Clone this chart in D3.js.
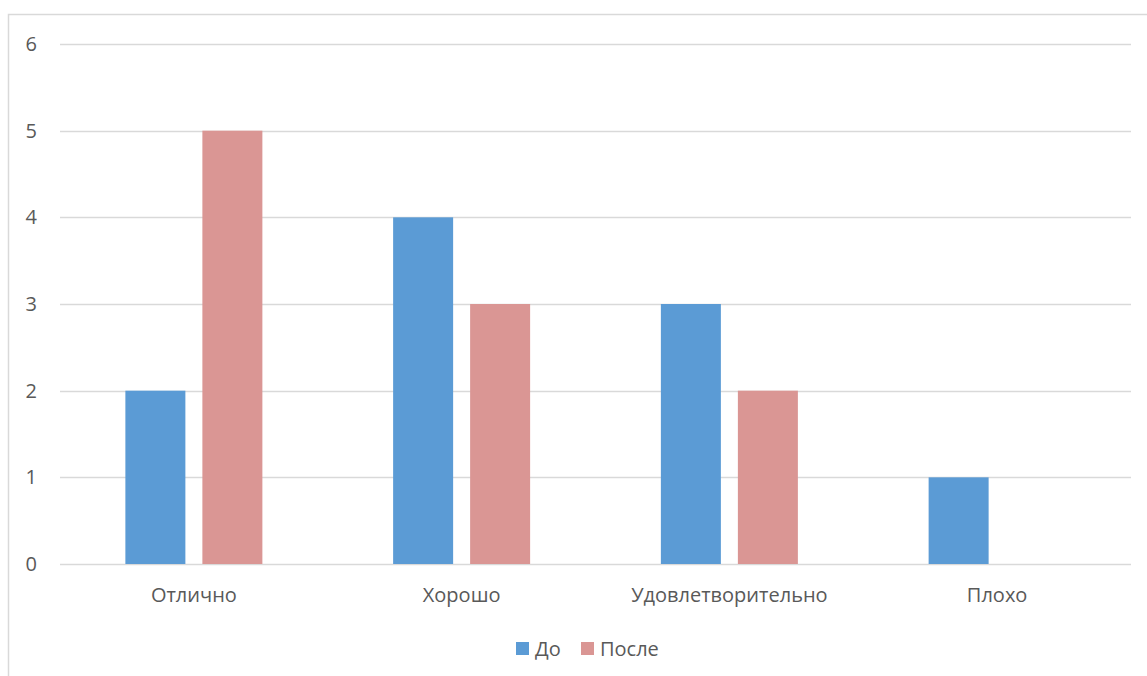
<!DOCTYPE html>
<html>
<head>
<meta charset="utf-8">
<script src="https://cdn.jsdelivr.net/npm/d3@7"></script>
<style>
  html, body { margin: 0; padding: 0; background: #fff; }
  svg { display: block; }
  text { font-family: "Open Sans", "Noto Sans", sans-serif; fill: #595959; }
</style>
</head>
<body>
<svg id="chart" width="1147" height="676"></svg>
<script>
// Grades before and after
const categories = ["Отлично", "Хорошо", "Удовлетворительно", "Плохо"];
const seriesNames = ["До", "После"];
const valuesBefore = [2, 4, 3, 1];
const valuesAfter = [5, 3, 2, 0];
const yTicks = [0, 1, 2, 3, 4, 5, 6];
const colors = ["#5B9BD5", "#DA9694"];

const svg = d3.select("#chart");
const W = 1147, H = 676;
const fontSize = 20;

// outer chart frame
svg.append("rect")
  .attr("x", 8.5).attr("y", 14.5)
  .attr("width", W + 10).attr("height", H + 10)
  .attr("fill", "none").attr("stroke", "#d9d9d9").attr("stroke-width", 1.5);

const plot = { left: 60, right: 1131, top: 44, bottom: 564 };

const x = d3.scaleBand().domain(categories).range([plot.left, plot.right]);
const y = d3.scaleLinear().domain([0, 6]).range([plot.bottom, plot.top]);

const barW = 60, barGap = 17;
const x1 = d3.scaleOrdinal().domain(seriesNames)
  .range([-(barGap / 2 + barW), barGap / 2]);

// gridlines
svg.append("g").selectAll("line").data(yTicks).join("line")
  .attr("x1", plot.left).attr("x2", plot.right)
  .attr("y1", d => Math.round(y(d)) + 0.5).attr("y2", d => Math.round(y(d)) + 0.5)
  .attr("stroke", "#d9d9d9").attr("stroke-width", 1.5);

// y axis labels
const yAxis = d3.axisLeft(y).tickValues(yTicks).tickFormat(d3.format("d")).tickSize(0).tickPadding(0);
const gy = svg.append("g").attr("transform", "translate(37,0)").call(yAxis);
gy.select(".domain").remove();
gy.selectAll("text")
  .attr("font-size", fontSize).attr("text-anchor", "end")
  .style("font-family", "'Open Sans', sans-serif").attr("fill", "#595959");

// bars
const rows = categories.map((c, i) => ({ cat: c, vals: [valuesBefore[i], valuesAfter[i]] }));
const groups = svg.append("g").selectAll("g").data(rows).join("g")
  .attr("transform", d => `translate(${x(d.cat) + x.bandwidth() / 2},0)`);
groups.selectAll("rect")
  .data(d => d.vals.map((v, j) => ({ name: seriesNames[j], v, j })).filter(e => e.v > 0))
  .join("rect")
  .attr("x", d => x1(d.name))
  .attr("width", barW)
  .attr("y", d => y(d.v))
  .attr("height", d => y(0) - y(d.v))
  .attr("fill", d => colors[d.j]);

// x axis labels
const xAxis = d3.axisBottom(x).tickSize(0).tickPadding(0);
const gx = svg.append("g").attr("transform", `translate(0,${plot.bottom + 24})`).call(xAxis);
gx.select(".domain").remove();
gx.selectAll("text")
  .attr("font-size", fontSize).attr("dy", "0.71em")
  .style("font-family", "'Open Sans', sans-serif").attr("fill", "#595959");

// legend
const legend = svg.append("g").attr("transform", "translate(516,642)");
const legendX = [0, 65];
seriesNames.forEach((n, i) => {
  const g = legend.append("g").attr("transform", `translate(${legendX[i]},0)`);
  g.append("rect").attr("width", 13).attr("height", 13).attr("fill", colors[i]);
  g.append("text").attr("x", 19).attr("y", 14).attr("font-size", fontSize).text(n);
});
</script>
</body>
</html>
